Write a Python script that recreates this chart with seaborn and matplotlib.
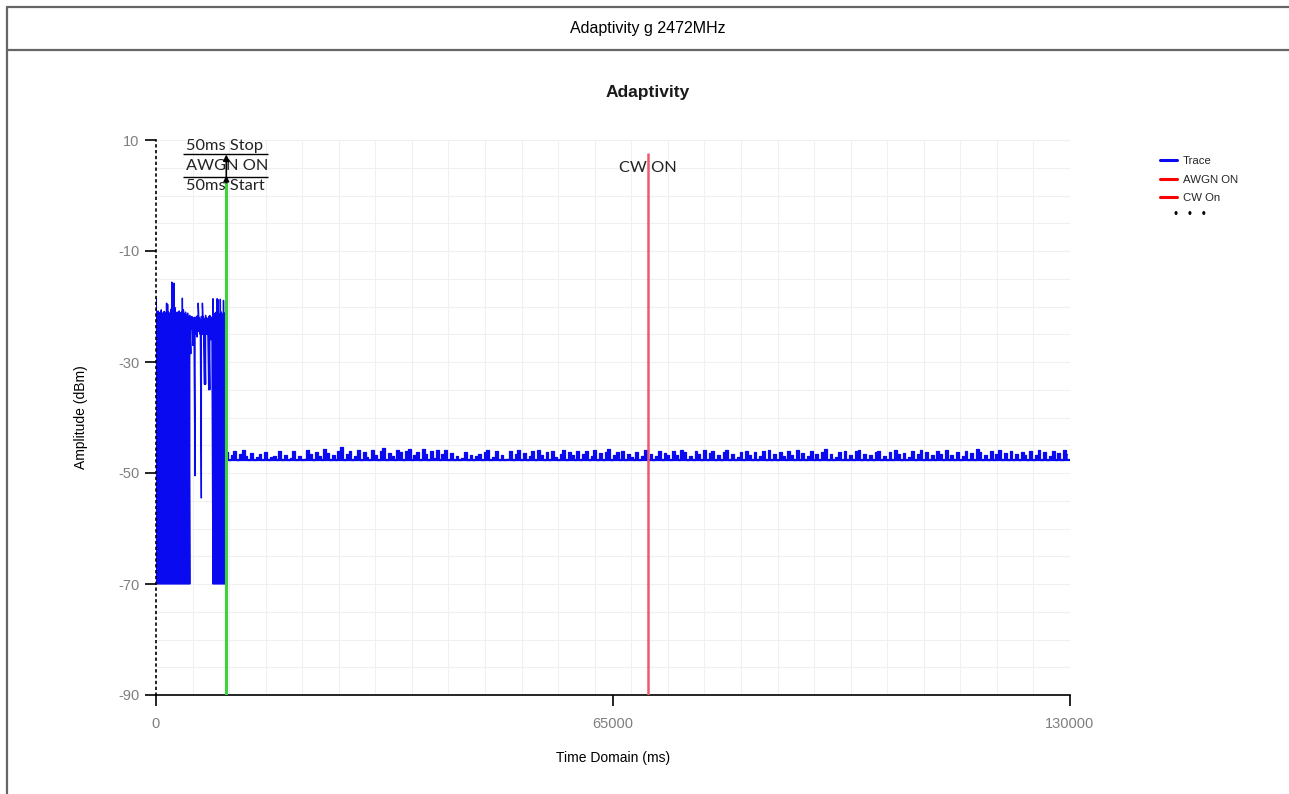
import matplotlib
matplotlib.use('Agg')

import numpy as np
import matplotlib.pyplot as plt
from matplotlib.lines import Line2D
from matplotlib.ticker import MultipleLocator
import seaborn as sns

sns.set_theme(style="white")
plt.rcParams['font.family'] = ['Liberation Sans', 'DejaVu Sans']
plt.rcParams['axes.unicode_minus'] = False

# ─────────────────────────────────────────
# 데이터
# ─────────────────────────────────────────
# 0 ~ 10000 ms 구간: 150 ms 간격 샘플, 각 샘플의 상단/하단 (dBm)
BURST_STEP_MS = 150
BURST_HI = [
    -18.5, -21.0, -20.8, -21.2, -21.0, -20.6, -21.3, -21.0, -20.9, -21.2,
    -19.4, -19.6, -21.0, -21.3, -20.5, -15.6, -21.0, -15.8, -20.2, -21.1,
    -21.0, -21.4, -20.8, -21.2, -21.0, -18.5, -20.6, -21.3, -21.0, -21.5,
    -21.2, -21.8, -21.6, -22.0, -21.8, -22.3, -22.0, -21.9, -22.4, -21.7,
    -19.4, -22.0, -22.3, -21.8, -19.4, -21.9, -22.2, -21.6, -22.0, -22.3,
    -21.8, -21.6, -22.1, -21.9, -18.6, -21.5, -21.2, -21.0, -18.6, -18.8,
    -21.3, -18.7, -21.0, -21.4, -18.9, -21.2,
]
BURST_LO = [
    -70, -70, -70, -70, -70, -70, -70, -70, -70, -70,
    -70, -70, -70, -70, -70, -70, -70, -70, -70, -70,
    -70, -70, -70, -70, -70, -70, -70, -70, -70, -70,
    -70, -70, -70, -28.5, -24.0, -27.0, -26.5, -50.5, -25.0, -25.5,
    -24.5, -24.0, -25.0, -54.5, -25.0, -24.5, -34.0, -34.0, -25.0, -24.0,
    -35.0, -35.0, -26.0, -25.0, -70, -70, -70, -70, -70, -70,
    -70, -70, -70, -70, -70, -70,
]

# 10000 ~ 130000 ms 구간: 400 ms 간격 노이즈 피크 (dBm), 바닥 레벨
NOISE_START_MS = 10000
NOISE_STEP_MS = 400
NOISE_FLOOR = -47.6
NOISE_DBM = [
    -46.2, -47.6, -46.8, -46.0, -47.6, -46.5, -45.8, -47.0, -47.6, -46.4, -47.6, -47.1, -46.6, -47.6, -46.3, -47.6, -47.2, -46.9, -47.6, -46.1,
    -47.6, -46.7, -47.6, -47.3, -46.0, -47.6, -46.9, -47.6, -47.4, -45.9, -46.5, -47.6, -46.2, -47.0, -47.6, -45.6, -46.4, -47.6, -46.8, -47.6,
    -46.1, -45.4, -47.6, -46.6, -46.0, -47.6, -46.9, -45.8, -47.6, -46.3, -47.2, -47.6, -45.9, -46.7, -47.6, -46.0, -45.5, -47.6, -46.4, -46.9,
    -47.6, -45.8, -46.3, -47.6, -46.1, -45.6, -47.6, -46.8, -46.2, -47.6, -45.7, -46.5, -47.6, -46.0, -47.3, -45.9, -47.6, -46.6, -45.8, -47.6,
    -46.4, -47.6, -46.9, -47.6, -47.3, -46.2, -47.6, -46.7, -47.6, -47.0, -46.5, -47.6, -46.3, -45.9, -47.6, -47.2, -46.1, -47.6, -46.8, -47.6,
    -47.4, -46.0, -47.6, -46.6, -45.8, -47.6, -46.4, -47.6, -46.9, -46.1, -47.6, -45.9, -46.7, -47.6, -46.3, -47.6, -46.0, -47.1, -47.6, -46.5,
    -45.9, -47.6, -46.2, -46.8, -47.6, -46.0, -47.6, -46.6, -46.1, -47.6, -46.9, -45.8, -47.6, -46.4, -47.6, -46.2, -45.7, -47.6, -46.8, -46.3,
    -47.6, -46.0, -47.6, -46.5, -47.2, -47.6, -46.2, -47.6, -46.9, -45.9, -47.6, -46.6, -47.6, -47.0, -46.1, -47.6, -46.4, -46.8, -47.6, -46.0,
    -46.7, -47.6, -45.8, -46.3, -47.6, -46.9, -47.6, -46.1, -46.6, -47.6, -45.9, -47.6, -46.4, -46.0, -47.6, -46.8, -47.6, -46.2, -45.8, -47.6,
    -46.5, -47.6, -47.1, -46.3, -47.6, -46.0, -46.7, -47.6, -46.2, -47.6, -46.9, -46.1, -47.6, -45.8, -47.6, -46.6, -47.6, -46.3, -47.0, -47.6,
    -46.1, -46.8, -47.6, -45.9, -47.6, -46.4, -47.6, -46.9, -46.0, -47.6, -46.5, -47.6, -46.2, -45.7, -47.6, -46.6, -47.6, -47.2, -46.3, -47.6,
    -46.0, -47.6, -46.7, -47.6, -46.1, -45.9, -47.6, -46.5, -47.6, -46.8, -47.6, -46.3, -46.0, -47.6, -46.9, -47.6, -46.2, -47.6, -45.8, -46.6,
    -47.6, -46.4, -47.6, -47.1, -46.0, -47.6, -46.6, -45.9, -47.6, -46.3, -47.6, -46.8, -47.6, -46.1, -46.5, -47.6, -45.8, -47.6, -46.7, -47.6,
    -46.2, -47.6, -46.9, -46.0, -47.6, -46.4, -47.6, -45.7, -46.3, -47.6, -46.8, -47.6, -46.1, -47.6, -46.6, -45.9, -47.6, -46.4, -47.6, -46.0,
    -47.6, -46.5, -47.6, -46.2, -46.8, -47.6, -46.0, -47.6, -46.7, -45.9, -47.6, -46.3, -47.6, -46.9, -46.1, -47.6, -46.4, -47.6, -45.8, -46.6,
]

AWGN_ON_MS = 10000
CW_ON_MS = 70000
X_TICKS = [0, 65000, 130000]
Y_TICKS = [10, -10, -30, -50, -70, -90]

TRACE_COLOR = "#0A0AF0"
GREEN = "#3CD23C"
CW_RED = "#EC5A6E"

# ─────────────────────────────────────────
# 그림
# ─────────────────────────────────────────
fig = plt.figure(figsize=(12.89, 7.94), dpi=100)
ax = fig.add_axes([156 / 1289, 1 - 695 / 794, 914 / 1289, 555 / 794])

burst_t = np.arange(len(BURST_HI)) * BURST_STEP_MS
burst_x = np.repeat(burst_t, 2)
burst_y = np.column_stack([BURST_LO, BURST_HI]).ravel()
sns.lineplot(x=burst_x, y=burst_y, sort=False, estimator=None,
             color=TRACE_COLOR, lw=1.0, ax=ax)

noise_t = NOISE_START_MS + np.arange(len(NOISE_DBM)) * NOISE_STEP_MS
sns.lineplot(x=noise_t, y=NOISE_DBM, sort=False, estimator=None,
             color=TRACE_COLOR, lw=0.9, drawstyle='steps-mid', ax=ax)
ax.fill_between(noise_t, NOISE_FLOOR, NOISE_DBM, step='mid',
                color=TRACE_COLOR, lw=0)
ax.axhline(NOISE_FLOOR, xmin=NOISE_START_MS / 130000, xmax=1,
           color=TRACE_COLOR, lw=1.6)

# 마커 라인
ax.vlines(AWGN_ON_MS, -90, 2.8, color=GREEN, lw=2.2, zorder=5)
ax.vlines(CW_ON_MS, -90, 7.7, color=CW_RED, lw=1.8, zorder=5)

# 주석
ann_font = dict(family=['Lato', 'DejaVu Sans'], fontsize=11.8, color='#222222')
ax.text(4270, 9.0, "50ms Stop", va='center', ha='left', **ann_font)
ax.text(4270, 5.4, "AWGN ON", va='center', ha='left', **ann_font)
ax.text(4270, 1.8, "50ms Start", va='center', ha='left', **ann_font)
ax.hlines([7.4, 3.4], 3840, 15930, color='black', lw=1.0, zorder=6)
ax.annotate("", xy=(AWGN_ON_MS, 7.4), xytext=(AWGN_ON_MS, 3.4),
            arrowprops=dict(arrowstyle='-|>', color='black', lw=1.2,
                            mutation_scale=9, shrinkA=0, shrinkB=0), zorder=7)
ax.annotate("", xy=(AWGN_ON_MS, 3.6), xytext=(AWGN_ON_MS, 2.3),
            arrowprops=dict(arrowstyle='-|>', color='black', lw=1.2,
                            mutation_scale=8, shrinkA=0, shrinkB=0), zorder=7)
ax.text(CW_ON_MS, 5.0, "CW ON", va='center', ha='center', **ann_font)

# 축
ax.set_xlim(0, 130000)
ax.set_ylim(-90, 10)
ax.set_xticks(X_TICKS)
ax.set_xticklabels([str(v) for v in X_TICKS])
ax.set_yticks(Y_TICKS)
ax.xaxis.set_minor_locator(MultipleLocator(5200))
ax.yaxis.set_minor_locator(MultipleLocator(5))
ax.grid(which='minor', color='#F0F0F0', lw=0.8)
ax.grid(which='major', axis='y', color='#F0F0F0', lw=0.8)
ax.grid(which='major', axis='x', visible=False)

ax.tick_params(which='major', left=True, bottom=True, direction='out',
               length=8, width=1.2, color='black', labelcolor='#7F7F7F',
               labelsize=10.5)
ax.tick_params(axis='x', pad=8)
ax.tick_params(axis='y', pad=4)
ax.tick_params(which='minor', length=0)

for s in ['top', 'right']:
    ax.spines[s].set_visible(False)
ax.spines['left'].set_linestyle((0, (1, 2.5)))
ax.spines['left'].set_color('black')
ax.spines['left'].set_linewidth(1.2)
ax.spines['bottom'].set_color('black')
ax.spines['bottom'].set_linewidth(1.2)

ax.set_xlabel("Time Domain (ms)", fontsize=10, color='black', labelpad=14)
ax.set_ylabel("Amplitude (dBm)", fontsize=10, color='black', labelpad=22)

# 제목
fig.text(648 / 1289, 1 - 92 / 794, "Adaptivity", ha='center', va='center',
         fontsize=12.5, fontweight='bold', color='#1a1a1a')
fig.text(648 / 1289, 1 - 29 / 794, "Adaptivity g 2472MHz", ha='center',
         va='center', fontsize=11.5, color='black')

# 범례
handles = [Line2D([], [], color=TRACE_COLOR, lw=2.2),
           Line2D([], [], color='#FF0000', lw=2.2),
           Line2D([], [], color='#FF0000', lw=2.2)]
fig.legend(handles, ["Trace", "AWGN ON", "CW On"], loc='upper left',
           bbox_to_anchor=(1152 / 1289, 1 - 148 / 794), frameon=False,
           fontsize=8.2, handlelength=1.5, handletextpad=0.5,
           labelspacing=0.75, borderpad=0.2)
fig.text(1190 / 1289, 1 - 215 / 794, "•   •   •", ha='center', va='center',
         fontsize=8.5, color='black')

# 바깥 테두리
border = dict(color='#666666', lw=1.6, transform=fig.transFigure)
fig.add_artist(Line2D([7 / 1289, 7 / 1289], [0, 1 - 7 / 794], **border))
fig.add_artist(Line2D([7 / 1289, 1], [1 - 7 / 794, 1 - 7 / 794], **border))
fig.add_artist(Line2D([7 / 1289, 1], [1 - 50 / 794, 1 - 50 / 794], **border))

fig.savefig("out.png", dpi=100)
plt.close(fig)
